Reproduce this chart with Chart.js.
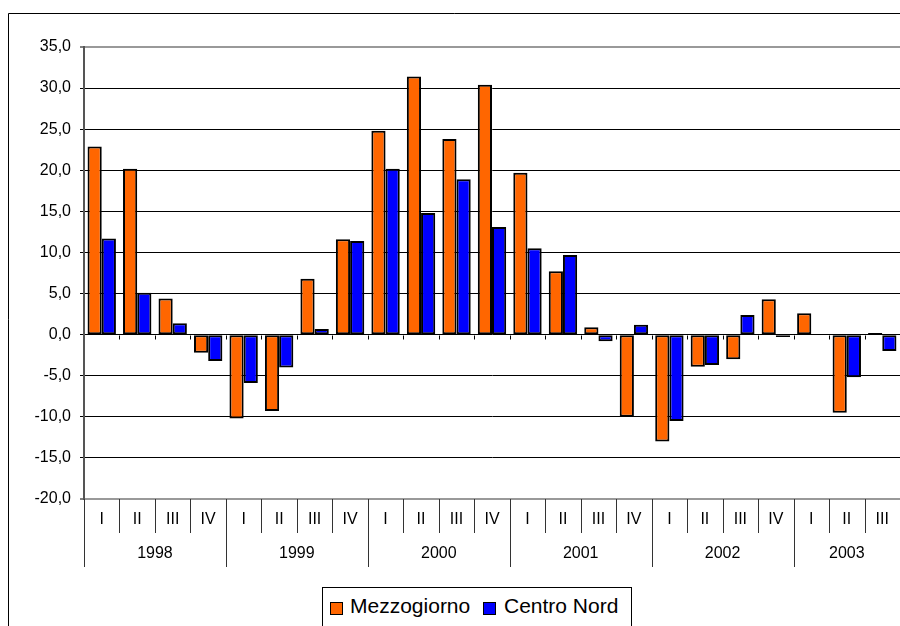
<!DOCTYPE html>
<html>
<head>
<meta charset="utf-8">
<script src="https://cdn.jsdelivr.net/npm/chart.js@4/dist/chart.umd.min.js"></script>
<style>
  body { margin: 0; background: #fff; }
  #wrap { position: relative; width: 900px; height: 626px; overflow: hidden; }
  #legend {
    position: absolute; left: 322px; top: 587px; width: 308px; height: 60px;
    border: 1px solid #000; background: #fff;
    font-family: "Liberation Sans", Arial, sans-serif; font-size: 21px; color: #000;
  }
  #legend .sw { position: absolute; top: 14px; width: 11px; height: 11px; border: 1px solid #000; }
  #legend .txt { position: absolute; top: 7px; line-height: 21px; white-space: nowrap; }
</style>
</head>
<body>
<div id="wrap">
  <canvas id="chart" width="900" height="626"></canvas>
  <div id="legend"></div>
</div>
<script>
const years = ["1998", "1999", "2000", "2001", "2002", "2003"];
const quartersPerYear = [4, 4, 4, 4, 4, 3];
const quarters = ["I", "II", "III", "IV", "I", "II", "III", "IV", "I", "II", "III", "IV",
                  "I", "II", "III", "IV", "I", "II", "III", "IV", "I", "II", "III"];

const mezzogiorno = [22.9, 20.2, 4.4, -2.2, -10.2, -9.3, 6.8, 11.6, 24.8, 31.4, 23.8, 30.4,
                     19.7, 7.7, 0.9, -10.0, -13.0, -3.9, -3.0, 4.3, 2.6, -9.5, 0.2];
const centroNord = [11.7, 5.1, 1.4, -3.2, -5.9, -4.0, 0.7, 11.4, 20.2, 14.8, 18.9, 13.1,
                    10.5, 9.7, -0.8, 1.2, -10.5, -3.7, 2.4, -0.3, null, -5.2, -2.0];

const seriesNames = ["Mezzogiorno", "Centro Nord"];
const seriesColors = ["#FF6600", "#0000FF"];

const yMin = -20, yMax = 35, yStep = 5;
const font = "Liberation Sans, Arial, sans-serif";

// frame, zero-line ticks and the two level category axis
const axisPlugin = {
  id: "axisPlugin",
  beforeDraw(chart) {
    const ctx = chart.ctx;
    ctx.save();
    ctx.fillStyle = "#fff";
    ctx.fillRect(0, 0, chart.width, chart.height);
    ctx.strokeStyle = "#000";
    ctx.lineWidth = 1;
    ctx.beginPath();
    ctx.moveTo(8.5, chart.height);
    ctx.lineTo(8.5, 13.5);
    ctx.lineTo(chart.width, 13.5);
    ctx.stroke();
    ctx.restore();
  },
  afterDraw(chart) {
    const ctx = chart.ctx;
    const x = chart.scales.x;
    const y = chart.scales.y;
    const area = chart.chartArea;
    const step = area.width / quarters.length;
    const zeroY = Math.round(y.getPixelForValue(0)) + 0.5;
    ctx.save();
    ctx.lineWidth = 1;

    // small ticks under the zero line
    ctx.strokeStyle = "#000";
    ctx.beginPath();
    for (let i = 1; i < quarters.length; i++) {
      const px = Math.round(x.getPixelForValue(i) - step / 2) + 0.5;
      ctx.moveTo(px, zeroY);
      ctx.lineTo(px, zeroY + 4);
    }
    ctx.stroke();

    ctx.font = "16px " + font;
    ctx.fillStyle = "#000";
    ctx.textAlign = "center";
    ctx.textBaseline = "middle";
    ctx.strokeStyle = "#333";

    const bottom = area.bottom;
    // quarter row
    ctx.beginPath();
    quarters.forEach((q, i) => {
      const c = x.getPixelForValue(i);
      const px = Math.round(c - step / 2) + 0.5;
      ctx.moveTo(px, bottom);
      ctx.lineTo(px, bottom + 34);
      ctx.fillText(q, c, bottom + 21);
    });
    ctx.stroke();

    // year row
    let start = 0;
    ctx.beginPath();
    years.forEach((yr, j) => {
      const n = quartersPerYear[j];
      const left = x.getPixelForValue(start) - step / 2;
      const right = x.getPixelForValue(start + n - 1) + step / 2;
      const px = Math.round(left) + 0.5;
      ctx.moveTo(px, bottom);
      ctx.lineTo(px, bottom + 68);
      ctx.fillText(yr, (left + right) / 2, bottom + 55);
      start += n;
    });
    ctx.stroke();
    ctx.restore();
  }
};

new Chart(document.getElementById("chart").getContext("2d"), {
  type: "bar",
  data: {
    labels: quarters,
    datasets: [
      { label: seriesNames[0], data: mezzogiorno, backgroundColor: seriesColors[0],
        borderColor: "#000", borderWidth: 2, borderSkipped: false },
      { label: seriesNames[1], data: centroNord, backgroundColor: seriesColors[1],
        borderColor: "#000", borderWidth: 2, borderSkipped: false }
    ]
  },
  options: {
    responsive: false,
    animation: false,
    devicePixelRatio: 1,
    categoryPercentage: 0.8,
    barPercentage: 1.0,
    layout: { padding: { top: 47, right: 0, bottom: 127, left: 0 } },
    plugins: {
      legend: { display: false },
      tooltip: { enabled: false }
    },
    scales: {
      x: { display: false },
      y: {
        min: yMin,
        max: yMax,
        afterFit: scale => { scale.width = 84; },
        border: { display: true, color: "#555", width: 2 },
        grid: {
          color: c => (c.tick && (c.tick.value === yMax || c.tick.value === yMin)) ? "#999" : "#000",
          lineWidth: c => (c.tick && (c.tick.value === yMax || c.tick.value === yMin)) ? 2 : 1,
          tickLength: 4,
          tickColor: "#000",
          tickWidth: 1
        },
        ticks: {
          stepSize: yStep,
          padding: 9,
          color: "#000",
          font: { family: font, size: 16 },
          callback: v => v.toFixed(1).replace(".", ",")
        }
      }
    }
  },
  plugins: [axisPlugin]
});

// legend as text
const legend = document.getElementById("legend");
const swatchLeft = [7, 160];
const textLeft = [27, 181];
seriesNames.forEach((name, i) => {
  const sw = document.createElement("span");
  sw.className = "sw";
  sw.style.left = swatchLeft[i] + "px";
  sw.style.background = seriesColors[i];
  legend.appendChild(sw);
  const t = document.createElement("span");
  t.className = "txt";
  t.style.left = textLeft[i] + "px";
  t.textContent = name;
  legend.appendChild(t);
});
</script>
</body>
</html>
